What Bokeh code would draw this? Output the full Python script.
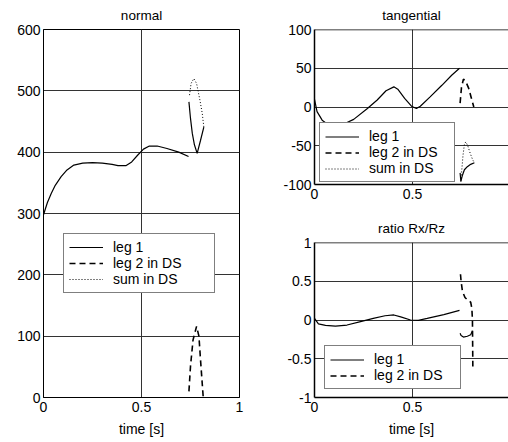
from bokeh.plotting import figure
from bokeh.models import Legend, LegendItem, Span, FixedTicker, Range1d
from bokeh.layouts import row, column
from bokeh.embed import file_html
from bokeh.resources import INLINE

FONT = "Liberation Sans"
FS = "14px"
TFS = "13.5px"

# ---------------- data ----------------
# normal force
n_t_leg1 = [0, 0.02, 0.04, 0.06, 0.09, 0.12, 0.155, 0.2, 0.25, 0.3, 0.35, 0.38, 0.42,
            0.45, 0.48, 0.51, 0.54, 0.58, 0.63, 0.69, 0.74]
n_leg1 = [298, 318, 333, 346, 360, 371, 379, 382, 383, 382, 380, 378, 378,
          384, 395, 405, 410, 410, 406, 400, 393]
n_t_leg1_ds = [0.742, 0.75, 0.759, 0.77, 0.784, 0.801, 0.818]
n_leg1_ds = [482, 455, 431, 412, 398, 419, 441]
n_t_leg2 = [0.742, 0.75, 0.763, 0.781, 0.793, 0.801, 0.815]
n_leg2 = [10, 51, 94, 116, 100, 62, 0]
n_t_sum = [0.745, 0.753, 0.767, 0.781, 0.798, 0.81, 0.818]
n_sum = [493, 512, 520, 512, 485, 463, 441]

# tangential force
t_t_leg1 = [0, 0.013, 0.039, 0.065, 0.107, 0.15, 0.2, 0.27, 0.32, 0.365, 0.405, 0.425,
            0.46, 0.495, 0.52, 0.54, 0.59, 0.65, 0.70, 0.74]
t_leg1 = [10, -6, -17, -22, -23.5, -22, -16, -2, 9, 21, 26, 23,
          11, 1, -2, 1, 13, 28, 41, 50]
t_t_leg1_ds = [0.743, 0.747, 0.755, 0.765, 0.78, 0.797, 0.816]
t_leg1_ds = [-85, -96, -88, -81, -77, -74, -72]
t_t_leg2 = [0.743, 0.75, 0.76, 0.772, 0.787, 0.80, 0.813]
t_leg2 = [5, 25, 36, 33, 24, 12, 0]
t_t_sum = [0.747, 0.752, 0.758, 0.765, 0.772, 0.782, 0.795, 0.807, 0.816]
t_sum = [-96, -80, -62, -48, -45, -50, -60, -68, -72]

# ratio Rx/Rz
r_t_leg1 = [0, 0.02, 0.056, 0.107, 0.166, 0.235, 0.30, 0.36, 0.405, 0.44, 0.49, 0.53,
            0.575, 0.66, 0.74]
r_leg1 = [0.02, -0.05, -0.07, -0.08, -0.065, -0.02, 0.02, 0.055, 0.065, 0.04, 0.0, -0.005,
          0.02, 0.07, 0.125]
r_t_leg1_ds = [0.743, 0.748, 0.76, 0.78, 0.797, 0.806]
r_leg1_ds = [-0.17, -0.2, -0.22, -0.21, -0.19, -0.14]
r_t_leg2 = [0.745, 0.748, 0.755, 0.768, 0.785, 0.797, 0.803, 0.806, 0.807, 0.808]
r_leg2 = [0.59, 0.5, 0.37, 0.29, 0.25, 0.23, 0.15, 0.0, -0.3, -0.6]

x_ticks = [0, 0.5, 1]
x_tick_labels = ["0", "0.5", "1"]
n_ticks = [0, 100, 200, 300, 400, 500, 600]
n_tick_labels = ["0", "100", "200", "300", "400", "500", "600"]
t_ticks = [-100, -50, 0, 50, 100]
t_tick_labels = ["-100", "-50", "0", "50", "100"]
r_ticks = [-1, -0.5, 0, 0.5, 1]
r_tick_labels = ["-1", "-0.5", "0", "0.5", "1"]

labels3 = ["leg 1", "leg 2 in DS", "sum in DS"]


def join(t1, y1, t2, y2):
    return list(t1) + [float("nan")] + list(t2), list(y1) + [float("nan")] + list(y2)


def make_fig(width, height, xr, yr, yticks, ylabels, title, bl, br, bt, bb,
             xlabel=None, open_right=False):
    p = figure(width=width, height=height, x_range=Range1d(*xr), y_range=Range1d(*yr),
               output_backend="svg", toolbar_location=None,
               min_border_left=bl, min_border_right=br, min_border_top=bt,
               min_border_bottom=bb)
    p.background_fill_color = "white"
    p.border_fill_color = "white"
    p.title.text = title
    p.title.align = "center"
    p.title.vertical_align = "top"
    p.title.text_font = FONT
    p.title.text_font_size = TFS
    p.title.text_font_style = "normal"
    p.title.text_color = "black"
    p.title.standoff = 10
    p.xaxis.ticker = FixedTicker(ticks=x_ticks)
    p.xaxis.major_label_overrides = {k: v for k, v in zip(x_ticks, x_tick_labels)}
    p.yaxis.ticker = FixedTicker(ticks=yticks)
    p.yaxis.major_label_overrides = {k: v for k, v in zip(yticks, ylabels)}
    for ax in (p.xaxis, p.yaxis):
        ax.major_tick_in = 0
        ax.major_tick_out = 0
        ax.minor_tick_in = 0
        ax.minor_tick_out = 0
        ax.axis_line_color = "black"
        ax.axis_line_width = 1.5 if open_right else 1
        ax.major_label_text_font = FONT
        ax.major_label_text_font_size = FS
        ax.major_label_text_color = "black"
    p.xaxis.major_label_standoff = 4
    p.yaxis.major_label_standoff = 3
    if xlabel:
        p.xaxis.axis_label = xlabel
        p.xaxis.axis_label_text_font = FONT
        p.xaxis.axis_label_text_font_size = FS
        p.xaxis.axis_label_text_font_style = "normal"
        p.xaxis.axis_label_text_color = "black"
        p.xaxis.axis_label_standoff = 6
    for g in (p.xgrid, p.ygrid):
        g.grid_line_color = "#333333"
        g.grid_line_width = 1
        g.grid_line_alpha = 1
    if open_right:
        p.outline_line_color = None
        p.add_layout(Span(location=yr[1], dimension="width", line_color="black",
                          line_width=1.5))
    else:
        p.outline_line_color = "black"
        p.outline_line_width = 1
    return p


def add_legend(p, items, loc, label_width, label_height=16):
    lg = Legend(items=items, location=loc, padding=5, spacing=0, label_height=label_height,
                glyph_height=label_height, glyph_width=34, label_standoff=10,
                label_width=label_width, margin=0,
                border_line_color="black", border_line_width=1,
                background_fill_color="white", background_fill_alpha=1,
                label_text_font=FONT, label_text_font_size=FS, label_text_color="black")
    p.add_layout(lg)


SOLID = dict(line_color="black", line_width=1.2)
DASH = dict(line_color="black", line_width=1.6, line_dash="6 4")
DOT = dict(line_color="black", line_width=1, line_dash="1 2")

# ---------- normal ----------
pn = make_fig(250, 442, (0, 1), (0, 600), n_ticks, n_tick_labels, "normal",
              43, 11, 29, 45, xlabel="time [s]")
tx, ty = join(n_t_leg1, n_leg1, n_t_leg1_ds, n_leg1_ds)
r1 = pn.line(tx, ty, **SOLID)
r2 = pn.line(n_t_leg2, n_leg2, **DASH)
r3 = pn.line(n_t_sum, n_sum, **DOT)
add_legend(pn, [LegendItem(label=l, renderers=[r]) for l, r in zip(labels3, [r1, r2, r3])],
           (20, 104), 96)

# ---------- tangential ----------
pt = make_fig(258, 205, (0, 0.99), (-100, 100), t_ticks, t_tick_labels, "tangential",
              64, 0, 29, 21, open_right=True)
tx, ty = join(t_t_leg1, t_leg1, t_t_leg1_ds, t_leg1_ds)
s1 = pt.line(tx, ty, **SOLID)
s2 = pt.line(t_t_leg2, t_leg2, **DASH)
s3 = pt.line(t_t_sum, t_sum, **DOT)
add_legend(pt, [LegendItem(label=l, renderers=[r]) for l, r in zip(labels3, [s1, s2, s3])],
           (5, 2), 80, 15)

# ---------- ratio ----------
pr = make_fig(258, 237, (0, 0.99), (-1, 1), r_ticks, r_tick_labels, "ratio Rx/Rz",
              64, 0, 37, 45, xlabel="time [s]", open_right=True)
tx, ty = join(r_t_leg1, r_leg1, r_t_leg1_ds, r_leg1_ds)
q1 = pr.line(tx, ty, **SOLID)
q2 = pr.line(r_t_leg2, r_leg2, **DASH)
add_legend(pr, [LegendItem(label=l, renderers=[r]) for l, r in zip(labels3[:2], [q1, q2])],
           (10, 8), 81, 15)

layout = row(pn, column(pt, pr))
open("out.html", "w").write(file_html(layout, INLINE))
